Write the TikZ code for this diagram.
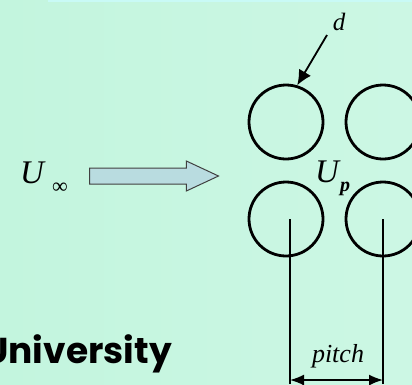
\documentclass[tikz,border=0pt]{standalone}
\usepackage{fontspec}
\setmainfont{Liberation Serif}
\newfontfamily\unifont{Poppins}
\usepackage{tikz}
\usetikzlibrary{arrows.meta,positioning,shapes.arrows}
\usepackage{xcolor}
\definecolor{mintL}{HTML}{C3F5DE}
\definecolor{mintR}{HTML}{CCF7E4}
\definecolor{topstrip}{HTML}{C9FAF6}
\definecolor{flowblue}{HTML}{B9DCE0}
\tikzset{
  tube/.style={circle, draw, line width=2.8pt, minimum size=74pt, inner sep=0pt},
  guide/.style={line width=1.4pt},
  sym/.style={font=\fontsize{33}{33}\selectfont\itshape, inner sep=0pt}
}

\begin{document}
\begin{tikzpicture}[x=1pt,y=-1pt]
        % Fundo
        \useasboundingbox (0,0) rectangle (412,384);
        \shade[left color=mintL, right color=mintR] (0,0) rectangle (412,384);
        \fill[topstrip] (48,0) rectangle (412,2);
        % Feixe de tubos (2x2)
        \node[tube] (ctl) at (286,122) {};
        \node[tube] (ctr) at (383,122) {};
        \node[tube] (cbl) at (286,219) {};
        \node[tube] (cbr) at (383,219) {};
        % Escoamento livre
        \node[sym] (uinf) at (32,173) {U};
        \node[inner sep=0pt, font=\fontsize{22}{22}\selectfont] (inf) at (60,188) {∞};
        \node[single arrow, draw=black!75, fill=flowblue, line width=1pt,
              minimum height=129pt, inner xsep=0pt, inner ysep=7.5pt,
              single arrow head extend=7pt, single arrow tip angle=50,
              single arrow head indent=0pt, anchor=tail] (flow) at (89,176) {};
        % Velocidade entre tubos
        \node[sym] (up) at (327,172) {U};
        \node[inner sep=0pt, font=\fontsize{20}{20}\selectfont\bfseries\itshape] (upsub) at (345,189) {p};
        % Diametro
        \node[inner sep=0pt, font=\fontsize{25}{25}\selectfont\itshape] (dlab) at (339,22) {d};
        \coordinate (dtail) at (327,35);
        \draw[-{Latex[length=15pt,width=14pt]}, line width=1.8pt] (dtail) -- (ctl.73);
        % Cota do passo
        \coordinate (pl) at (290,384);
        \coordinate (pr) at (383,384);
        \draw[guide] (cbl.center -| pl) -- (pl);
        \draw[guide] (cbr.center -| pr) -- (pr);
        \coordinate (diml) at (290,380);
        \coordinate (dimr) at (383,380);
        \draw[{Latex[length=14pt,width=11pt]}-{Latex[length=14pt,width=11pt]}, line width=1.6pt] (diml) -- (dimr);
        \node[inner sep=0pt, font=\fontsize{26}{26}\selectfont\itshape] (pitch) at (338,356) {pitch};
        % Rodape
        \node[anchor=base east, inner sep=0pt, font=\unifont\bfseries\fontsize{36}{36}\selectfont] (univ) at (172,363) {University};
    \end{tikzpicture}
\end{document}
